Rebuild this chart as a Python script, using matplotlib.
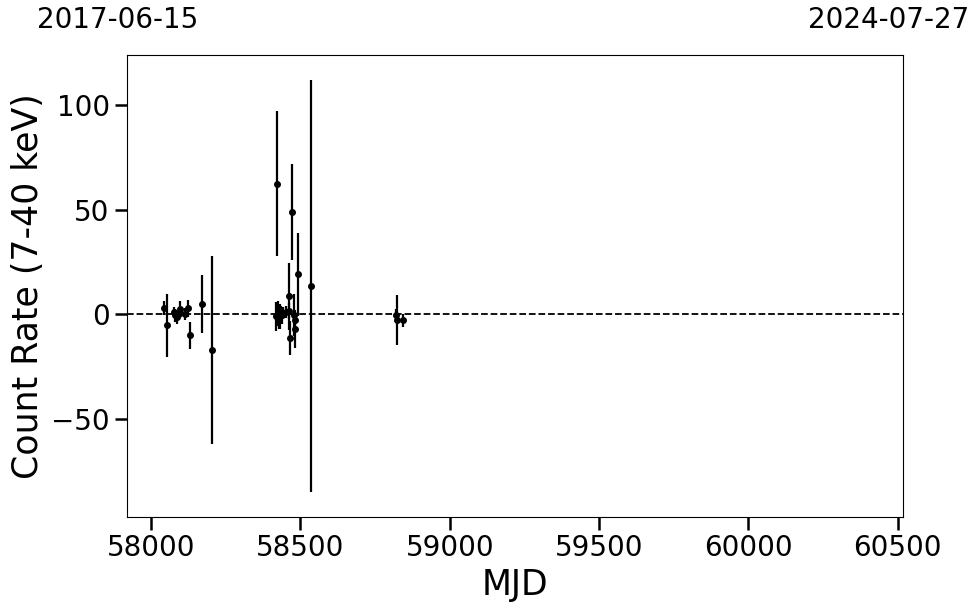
import numpy as np
from matplotlib import pyplot as plt

# light curve points: MJD, count rate (7-40 keV), 1 sigma error
mjd = [58042, 58052, 58075, 58081, 58088, 58095, 58098, 58114, 58123, 58130,
       58171, 58202,
       58418, 58423, 58425, 58428, 58431, 58435, 58439, 58443, 58453, 58461,
       58463, 58465, 58473, 58477, 58481, 58482, 58491, 58535,
       58821, 58823, 58845]
rate = [2.9, -5.3, 1.0, -0.5, -1.5, 0.5, 2.4, 0.0, 2.9, -10.0,
        4.8, -17.0,
        -1.0, 62.5, 0.5, -2.0, -1.0, 0.0, -0.5, 0.5, 1.0, 8.5,
        1.5, -11.3, 49.0, -0.5, -3.0, -7.0, 19.0, 13.4,
        -0.5, -2.6, -3.0]
err = [3.5, 15.0, 2.5, 3.0, 3.0, 2.5, 4.0, 3.0, 4.0, 6.5,
       14.0, 45.0,
       7.0, 34.5, 6.0, 5.0, 6.0, 4.0, 4.0, 3.0, 3.0, 16.0,
       4.0, 8.0, 23.0, 10.0, 3.0, 9.0, 20.0, 98.5,
       3.0, 12.0, 3.0]

mjd_start, mjd_end = 57919, 60518
date_start, date_end = '2017-06-15', '2024-07-27'

fig = plt.figure(figsize=(9.8, 6.13), dpi=100)
fig.subplots_adjust(left=0.1296, right=0.9214, top=0.9103, bottom=0.1566)
ax = fig.add_subplot(111)

ax.errorbar(mjd, rate, yerr=err, fmt='o', color='k', markersize=4,
            elinewidth=1.6, capsize=0)
ax.axhline(0, color='k', ls='--', lw=1.3)

ax.set_xlim(mjd_start, mjd_end)
ax.set_ylim(-97, 124)
ax.set_xticks(np.arange(58000, 60501, 500))
ax.tick_params(axis='both', which='major', length=9, width=1.8, labelsize=20)

ax.set_xlabel('MJD', fontsize=25)
ax.set_ylabel('Count Rate (7-40 keV)', fontsize=25)

# calendar dates of the axis limits
ax.text(-0.0116, 1.045, date_start, transform=ax.transAxes, ha='center',
        va='bottom', fontsize=20)
ax.text(0.982, 1.045, date_end, transform=ax.transAxes, ha='center',
        va='bottom', fontsize=20)

plt.savefig('out.png', dpi=100)
